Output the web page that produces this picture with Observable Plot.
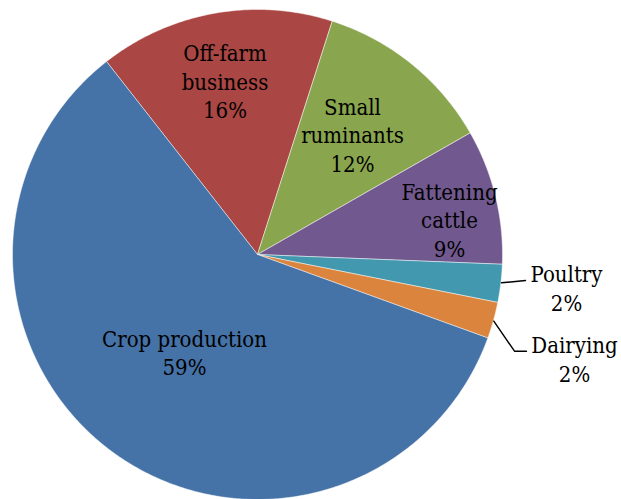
<!DOCTYPE html>
<html><head><meta charset="utf-8">
<script src="https://cdn.jsdelivr.net/npm/d3@7"></script>
<script src="https://cdn.jsdelivr.net/npm/@observablehq/plot@0.6"></script>
<style>body{margin:0;background:#fff;} svg{display:block;}</style>
</head><body><div id="chart"></div>
<script>
// ---- data ----
const categories = ["Off-farm business", "Small ruminants", "Fattening cattle", "Poultry", "Dairying", "Crop production"];
const labelNames = ["Off-farm\nbusiness", "Small\nruminants", "Fattening\ncattle", "Poultry", "Dairying", "Crop production"];
const shares = [15.5, 11.8, 8.9, 2.5, 2.4, 58.9];
const percentLabels = ["16%", "12%", "9%", "2%", "2%", "59%"];
const colors = ["#AA4643", "#89A54E", "#71588F", "#4198AF", "#DB843D", "#4572A7"];

// ---- layout (pixel positions in the 621x499 frame) ----
const cx = 257, cy = 254, R = 245;
const firstSliceAngleDeg = -38.04;
const labelPx = [[224.5, 80], [352, 133.5], [449, 218.5], [566, 287], [574, 358], [184, 351.5]];
const leaderPx = {
  "Poultry": [[501, 282.3], [525, 280]],
  "Dairying": [[493.3, 320.7], [514, 350.7], [526, 350.7]]
};

const toX = px => (px - cx) / R;
const toY = py => (cy - py) / R;

const rows = categories.map((c, i) => ({cat: c, value: shares[i]}));
const start = firstSliceAngleDeg * Math.PI / 180;
const arcs = d3.pie().sort(null).value(d => d.value).startAngle(start).endAngle(start + 2 * Math.PI)(rows);

const poly = [];
for (const a of arcs) {
  const cat = a.data.cat;
  poly.push({cat, x: 0, y: 0});
  const n = Math.max(2, Math.ceil((a.endAngle - a.startAngle) / (Math.PI / 360)));
  for (let i = 0; i <= n; i++) {
    const t = a.startAngle + (a.endAngle - a.startAngle) * i / n;
    poly.push({cat, x: Math.sin(t), y: Math.cos(t)});
  }
  poly.push({cat, x: 0, y: 0});
}

const labels = categories.map((c, i) => ({
  cat: c,
  text: labelNames[i] + "\n" + percentLabels[i],
  x: toX(labelPx[i][0]),
  y: toY(labelPx[i][1])
}));

const leaders = [];
for (const [cat, pts] of Object.entries(leaderPx)) {
  for (const [px, py] of pts) leaders.push({cat, x: toX(px), y: toY(py)});
}

const serif = "DejaVu Serif Condensed";
const chart = Plot.plot({
  width: 621,
  height: 499,
  marginLeft: 12,
  marginRight: 119,
  marginTop: 9,
  marginBottom: 0,
  x: {domain: [-1, 1], axis: null},
  y: {domain: [-1, 1], axis: null},
  color: {type: "ordinal", domain: categories, range: colors},
  style: {fontFamily: serif, background: "white", overflow: "visible"},
  marks: [
    Plot.line(poly, {x: "x", y: "y", z: "cat", fill: "cat", stroke: "white", strokeWidth: 0.6, strokeOpacity: 0.8, curve: "linear"}),
    Plot.line(leaders, {x: "x", y: "y", z: "cat", stroke: "black", strokeWidth: 1.4, curve: "linear"}),
    Plot.text(labels, {x: "x", y: "y", text: "text", fontSize: 22, lineHeight: 1.3, fill: "black", fontFamily: serif})
  ]
});
chart.querySelectorAll("text, tspan").forEach(t => t.setAttribute("font-family", serif));
document.getElementById("chart").appendChild(chart);
</script>
</body></html>
